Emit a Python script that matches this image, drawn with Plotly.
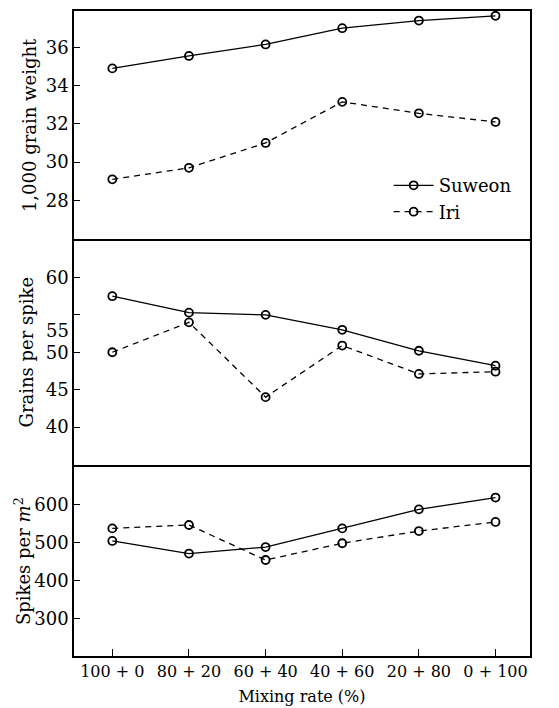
import plotly.graph_objects as go
from plotly.subplots import make_subplots

# ---- data ----
categories = ["100 + 0", "80 + 20", "60 + 40", "40 + 60", "20 + 80", "0 + 100"]
series_names = ["Suweon", "Iri"]

grain_weight_suweon = [34.9, 35.55, 36.15, 37.0, 37.4, 37.65]
grain_weight_iri = [29.1, 29.7, 31.0, 33.15, 32.55, 32.1]

grains_spike_suweon = [57.5, 55.3, 55.0, 53.0, 50.2, 48.2]
grains_spike_iri = [50.0, 54.0, 44.0, 50.9, 47.1, 47.4]

spikes_m2_suweon = [504, 471, 488, 537, 587, 618]
spikes_m2_iri = [537, 546, 454, 498, 530, 554]

y1_ticks = [28, 30, 32, 34, 36]
y2_ticks = [40, 45, 50, 55, 60]
y2_ticktext = ["40", "45", "50", " ", "60"]
y3_ticks = [300, 400, 500, 600]

panel_titles = ["1,000 grain weight", "Grains per spike", "Spikes per <i>m</i><sup>2</sup>"]
x_title = "Mixing rate (%)"

FONT = "DejaVu Serif"

fig = make_subplots(rows=3, cols=1, shared_xaxes=True, vertical_spacing=0,
                    row_heights=[229, 228, 192])

panels = [
    (grain_weight_suweon, grain_weight_iri),
    (grains_spike_suweon, grains_spike_iri),
    (spikes_m2_suweon, spikes_m2_iri),
]
for r, (s, i) in enumerate(panels, start=1):
    fig.add_trace(go.Scatter(
        x=categories, y=s, name=series_names[0], mode="lines+markers",
        line=dict(color="black", width=1.3),
        marker=dict(symbol="circle-open", size=8, color="black", line=dict(width=1.8)),
        showlegend=(r == 1), legendrank=1), row=r, col=1)
    fig.add_trace(go.Scatter(
        x=categories, y=i, name=series_names[1], mode="lines+markers",
        line=dict(color="black", width=1.3, dash="6px,5px"),
        marker=dict(symbol="circle-open", size=8, color="black", line=dict(width=1.8)),
        showlegend=(r == 1), legendrank=2), row=r, col=1)

line_style = dict(showline=True, linecolor="black", linewidth=1.6,
                  showgrid=False, zeroline=False,
                  tickfont=dict(family=FONT, size=18, color="black"))

for r in (1, 2, 3):
    fig.update_xaxes(line_style, row=r, col=1, range=[-0.5, 5.45], type="category",
                     mirror=(r == 1),
                     ticks="inside" if r == 3 else "", ticklen=7, tickcolor="black",
                     showticklabels=(r == 3))
fig.update_xaxes(row=3, col=1, tickfont=dict(family=FONT, size=16, color="black"),
                 title=dict(text=x_title, font=dict(family=FONT, size=16, color="black"),
                            standoff=11))

fig.update_yaxes(line_style, row=1, col=1, mirror=True, range=[26, 37.9], tickvals=y1_ticks,
                 ticks="inside", ticklen=6, tickcolor="black")
fig.update_yaxes(line_style, row=2, col=1, mirror=True, range=[34.9, 65.2], tickvals=y2_ticks,
                 ticktext=y2_ticktext, ticks="inside", ticklen=6, tickcolor="black")
fig.update_yaxes(line_style, row=3, col=1, mirror=True, range=[202, 703], tickvals=y3_ticks,
                 ticks="inside", ticklen=6, tickcolor="black")

title_x = [-0.098, -0.104, -0.113]
annotations = []
for k, t in enumerate(panel_titles):
    yref = "y domain" if k == 0 else f"y{k+1} domain"
    annotations.append(dict(text=t, xref="paper", yref=yref, x=title_x[k], y=0.5,
                            xanchor="center", yanchor="middle", textangle=-90,
                            showarrow=False,
                            font=dict(family=FONT, size=18, color="black")))
# displaced "55" label as printed in the original
annotations.append(dict(text="55", xref="paper", yref="y2", x=0, y=52.9,
                        xanchor="right", yanchor="middle", xshift=-3, showarrow=False,
                        font=dict(family=FONT, size=18, color="black")))

# page body adds an 8px offset; compensate so the plot frame lands where the reference has it
fig.update_layout(
    width=551, height=700,
    margin=dict(l=66, r=29, t=1, b=52),
    paper_bgcolor="white", plot_bgcolor="white",
    showlegend=True,
    legend=dict(x=0.69, y=0.758, xanchor="left", yanchor="top",
                bgcolor="rgba(0,0,0,0)", itemwidth=40, tracegroupgap=0,
                font=dict(family=FONT, size=18, color="black")),
    annotations=annotations,
)

fig.write_html("out.html")
